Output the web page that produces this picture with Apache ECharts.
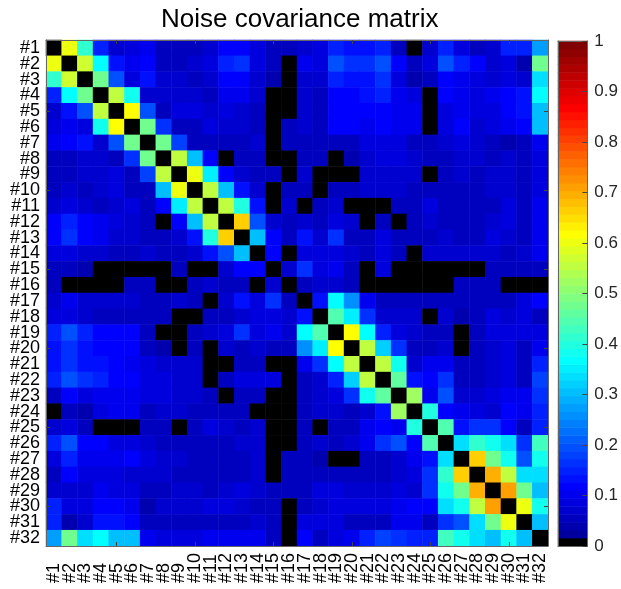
<!DOCTYPE html>
<html>
<head>
<meta charset="utf-8">
<script src="https://cdn.jsdelivr.net/npm/echarts@6/dist/echarts.min.js"></script>
<style>
  html, body { margin: 0; padding: 0; background: #fff; }
  #container { width: 621px; height: 589px; }
</style>
</head>
<body>
<div id="container"></div>
<script>
// channel labels
const labels = ['#1','#2','#3','#4','#5','#6','#7','#8','#9','#10','#11','#12','#13','#14','#15','#16',
  '#17','#18','#19','#20','#21','#22','#23','#24','#25','#26','#27','#28','#29','#30','#31','#32'];

// lower triangle of the (symmetric) covariance matrix, row i holds cols 1..i
// black cells (diagonal, negative) are stored as 0
const lowerRows = [
  [0],
  [0.6, 0],
  [0.42, 0.57, 0],
  [0.15, 0.37, 0.47, 0],
  [0.07, 0.14, 0.2, 0.55, 0],
  [0.08, 0.1, 0.08, 0.38, 0.62, 0],
  [0.1, 0.12, 0.14, 0.07, 0.2, 0.47, 0],
  [0.05, 0.05, 0.07, 0.07, 0.05, 0.16, 0.47, 0],
  [0.05, 0.06, 0.07, 0.07, 0.08, 0.06, 0.18, 0.55, 0],
  [0.05, 0.07, 0.06, 0.07, 0.09, 0.06, 0.06, 0.3, 0.6, 0],
  [0.07, 0.08, 0.07, 0.06, 0.07, 0.08, 0.06, 0.12, 0.35, 0.55, 0],
  [0.12, 0.15, 0.12, 0.1, 0.08, 0.07, 0.06, 0, 0.12, 0.3, 0.55, 0],
  [0.12, 0.16, 0.12, 0.1, 0.07, 0.07, 0.06, 0.06, 0.07, 0.14, 0.4, 0.66, 0],
  [0.08, 0.08, 0.07, 0.07, 0.06, 0.06, 0.07, 0.06, 0.06, 0.07, 0.14, 0.2, 0.3, 0],
  [0.05, 0.05, 0.04, 0, 0, 0, 0, 0, 0.06, 0, 0, 0.07, 0.12, 0.12, 0],
  [0.05, 0, 0, 0, 0, 0.05, 0.05, 0, 0, 0.06, 0.07, 0.05, 0.06, 0, 0.07, 0],
  [0.07, 0.1, 0.07, 0.07, 0.07, 0.07, 0.06, 0.06, 0.07, 0.06, 0, 0.07, 0.13, 0.09, 0.17, 0.06, 0],
  [0.09, 0.09, 0.07, 0.06, 0.05, 0.05, 0.05, 0.05, 0, 0, 0.06, 0.06, 0.07, 0.08, 0.08, 0.07, 0.14, 0],
  [0.15, 0.19, 0.15, 0.12, 0.11, 0.11, 0.06, 0, 0, 0.06, 0.07, 0.09, 0.16, 0.08, 0.1, 0.07, 0.37, 0.45, 0],
  [0.13, 0.17, 0.14, 0.12, 0.12, 0.12, 0.06, 0.04, 0, 0.06, 0, 0.07, 0.06, 0.07, 0.06, 0.06, 0.25, 0.35, 0.62, 0],
  [0.14, 0.16, 0.14, 0.13, 0.11, 0.1, 0.08, 0.07, 0.07, 0.07, 0, 0, 0.06, 0.06, 0, 0, 0.1, 0.17, 0.36, 0.55, 0],
  [0.15, 0.2, 0.16, 0.15, 0.12, 0.11, 0.09, 0.08, 0.07, 0.07, 0, 0.06, 0.08, 0.08, 0.09, 0, 0.06, 0.07, 0.15, 0.32, 0.55, 0],
  [0.06, 0.12, 0.09, 0.1, 0.1, 0.1, 0.08, 0.08, 0.07, 0.07, 0.06, 0, 0.06, 0.05, 0, 0, 0.06, 0.07, 0.08, 0.16, 0.38, 0.46, 0],
  [0, 0.06, 0.04, 0.09, 0.1, 0.1, 0.06, 0.07, 0.07, 0.06, 0.06, 0.06, 0.06, 0, 0, 0, 0.06, 0.07, 0.07, 0.06, 0.07, 0.14, 0.52, 0],
  [0.07, 0.09, 0.05, 0, 0, 0, 0.06, 0.05, 0, 0.06, 0.08, 0.07, 0.06, 0.07, 0, 0, 0.06, 0, 0.05, 0.06, 0.1, 0.12, 0.1, 0.4, 0],
  [0.15, 0.2, 0.12, 0.12, 0.09, 0.09, 0.07, 0.06, 0.05, 0.06, 0.06, 0.06, 0.07, 0.07, 0, 0, 0.06, 0.07, 0.06, 0.07, 0.1, 0.16, 0.2, 0.12, 0.45, 0],
  [0.08, 0.15, 0.1, 0.1, 0.1, 0.12, 0.08, 0.07, 0.07, 0.06, 0.05, 0.05, 0.06, 0.07, 0, 0.06, 0.06, 0.04, 0, 0, 0.06, 0.06, 0.07, 0.1, 0.13, 0.34, 0],
  [0.05, 0.12, 0.09, 0.09, 0.08, 0.07, 0.07, 0.07, 0.06, 0.06, 0.05, 0.05, 0.06, 0.07, 0, 0.06, 0.06, 0.06, 0.06, 0.05, 0.06, 0.06, 0.07, 0.08, 0.17, 0.42, 0.66, 0],
  [0.07, 0.07, 0.07, 0.1, 0.08, 0.08, 0.05, 0.06, 0.07, 0.07, 0.06, 0.07, 0.08, 0.07, 0.06, 0.06, 0.06, 0.08, 0.09, 0.07, 0.07, 0.07, 0.09, 0.07, 0.17, 0.38, 0.47, 0.7, 0],
  [0.15, 0.08, 0.08, 0.12, 0.12, 0.1, 0.04, 0.07, 0.07, 0.07, 0.08, 0.08, 0.07, 0.06, 0.06, 0, 0.06, 0.07, 0.09, 0.08, 0.08, 0.08, 0.1, 0.11, 0.12, 0.34, 0.38, 0.55, 0.71, 0],
  [0.15, 0.04, 0.07, 0.13, 0.13, 0.11, 0.06, 0.06, 0.05, 0.05, 0.05, 0.06, 0.06, 0.07, 0.05, 0, 0.08, 0.08, 0.08, 0.06, 0.06, 0.06, 0.1, 0.1, 0.06, 0.16, 0.2, 0.34, 0.47, 0.6, 0],
  [0.27, 0.48, 0.33, 0.36, 0.3, 0.3, 0.1, 0.08, 0.08, 0.09, 0.1, 0.1, 0.1, 0.1, 0.06, 0, 0.11, 0.06, 0.08, 0.1, 0.15, 0.18, 0.16, 0.15, 0.15, 0.43, 0.38, 0.33, 0.3, 0.38, 0.3, 0]
];

// MATLAB jet(64), lowest level drawn black
function jet(m) {
  const n = Math.ceil(m / 4);
  const u = [];
  for (let k = 1; k <= n; k++) u.push(k / n);
  for (let k = 1; k < n; k++) u.push(1);
  for (let k = n; k >= 1; k--) u.push(k / n);
  const g0 = Math.ceil(n / 2) - (m % 4 === 1 ? 1 : 0);
  const J = [];
  for (let i = 0; i < m; i++) J.push([0, 0, 0]);
  u.forEach(function (v, k) {
    const g = g0 + k + 1, r = g + n, b = g - n;
    if (r >= 1 && r <= m) J[r - 1][0] = v;
    if (g >= 1 && g <= m) J[g - 1][1] = v;
    if (b >= 1 && b <= m) J[b - 1][2] = v;
  });
  return J.map(function (c) {
    return 'rgb(' + c.map(function (x) { return Math.round(x * 255); }).join(',') + ')';
  });
}
const levels = 64;
const cmap = jet(levels);
cmap[0] = '#000000';

const pieces = cmap.map(function (c, i) {
  const p = { color: c };
  p.gte = i === 0 ? -10 : i / levels;
  if (i < levels - 1) p.lt = (i + 1) / levels; else p.lte = 10;
  return p;
});

// full symmetric matrix -> heatmap cells
const cells = [];
for (let r = 0; r < 32; r++) {
  for (let c = 0; c < 32; c++) {
    const v = c <= r ? lowerRows[r][c] : lowerRows[c][r];
    cells.push([c, r, v]);
  }
}

// colorbar strip
const barLevels = [];
const barCells = [];
for (let i = 0; i < levels; i++) {
  barLevels.push(String(i));
  barCells.push([0, i, (i + 0.5) / levels]);
}

const font = 'Liberation Sans, Arial, sans-serif';
const everyFifth = function (idx) { return (idx + 1) % 5 === 0; };

const myChart = echarts.init(document.getElementById('container'), null, { renderer: 'canvas' });
myChart.setOption({
  animation: false,
  backgroundColor: '#fff',
  title: {
    text: 'Noise covariance matrix',
    left: 156,
    top: 2,
    textStyle: { fontFamily: font, fontSize: 26, fontWeight: 'normal', color: '#000' }
  },
  grid: [
    { left: 46, top: 40, width: 502, height: 506 },
    { left: 558, top: 41, width: 36, height: 505 }
  ],
  xAxis: [
    {
      type: 'category', data: labels, gridIndex: 0, position: 'bottom', z: 10,
      axisLine: { show: true, lineStyle: { color: '#666', width: 1 } },
      axisTick: { show: true, inside: true, length: 4, alignWithLabel: true, interval: everyFifth, lineStyle: { color: '#444' } },
      axisLabel: { rotate: 90, interval: 0, margin: 37, align: 'left', verticalAlign: 'middle',
        fontFamily: font, fontSize: 18, color: '#000' },
      splitLine: { show: false }
    },
    {
      type: 'category', data: labels, gridIndex: 0, position: 'top', z: 10,
      axisLine: { show: true, lineStyle: { color: '#666', width: 1 } },
      axisTick: { show: true, inside: true, length: 4, alignWithLabel: true, interval: everyFifth, lineStyle: { color: '#444' } },
      axisLabel: { show: false }
    },
    {
      type: 'category', data: ['c'], gridIndex: 1, z: 10,
      axisLine: { show: true, lineStyle: { color: '#666' } },
      axisTick: { show: false }, axisLabel: { show: false }
    },
    {
      type: 'category', data: ['c'], gridIndex: 1, position: 'top', z: 10,
      axisLine: { show: true, lineStyle: { color: '#666' } },
      axisTick: { show: false }, axisLabel: { show: false }
    }
  ],
  yAxis: [
    {
      type: 'category', data: labels, gridIndex: 0, inverse: true, position: 'left', z: 10,
      axisLine: { show: true, lineStyle: { color: '#666', width: 1 } },
      axisTick: { show: true, inside: true, length: 4, alignWithLabel: true, interval: everyFifth, lineStyle: { color: '#444' } },
      axisLabel: { interval: 0, margin: 6, fontFamily: font, fontSize: 18, color: '#000' },
      splitLine: { show: false }
    },
    {
      type: 'category', data: labels, gridIndex: 0, inverse: true, position: 'right', z: 10,
      axisLine: { show: true, lineStyle: { color: '#666', width: 1 } },
      axisTick: { show: true, inside: true, length: 4, alignWithLabel: true, interval: everyFifth, lineStyle: { color: '#444' } },
      axisLabel: { show: false }
    },
    {
      type: 'category', data: barLevels, gridIndex: 1, position: 'left', z: 10,
      axisLine: { show: true, lineStyle: { color: '#666' } },
      axisTick: { show: false }, axisLabel: { show: false }
    },
    {
      type: 'value', gridIndex: 1, position: 'right', min: 0, max: 1, interval: 0.1, z: 10,
      axisLine: { show: true, lineStyle: { color: '#666' } },
      axisTick: { show: true, inside: true, length: 5, lineStyle: { color: '#444' } },
      axisLabel: { margin: 7, fontFamily: font, fontSize: 17, color: '#262626' },
      splitLine: { show: false }
    }
  ],
  visualMap: {
    type: 'piecewise',
    show: false,
    seriesIndex: [0, 1],
    dimension: 2,
    pieces: pieces
  },
  series: [
    {
      type: 'heatmap',
      xAxisIndex: 0,
      yAxisIndex: 0,
      data: cells,
      itemStyle: { borderWidth: 0 },
      emphasis: { disabled: true }
    },
    {
      type: 'heatmap',
      xAxisIndex: 2,
      yAxisIndex: 2,
      data: barCells,
      itemStyle: { borderWidth: 0 },
      emphasis: { disabled: true }
    }
  ]
});
</script>
</body>
</html>
